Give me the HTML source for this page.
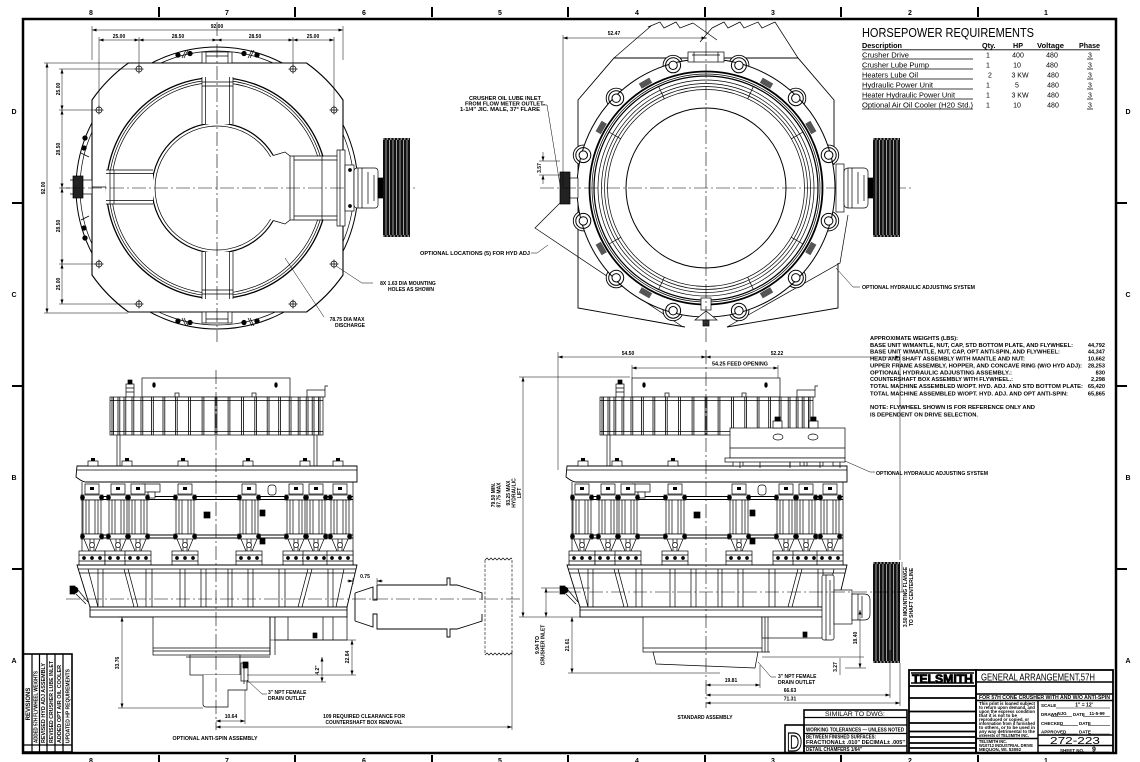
<!DOCTYPE html>
<html><head><meta charset="utf-8">
<style>html,body{margin:0;padding:0;background:#fff;width:1140px;height:762px;overflow:hidden}svg{display:block}</style>
</head>
<body>
<svg xmlns="http://www.w3.org/2000/svg" xmlns:xlink="http://www.w3.org/1999/xlink" width="1140" height="762" viewBox="0 0 1140 762" font-family="'Liberation Sans', Arial, sans-serif">
<defs>
<marker id="ar" viewBox="0 0 6 4" refX="6" refY="2" markerWidth="5" markerHeight="3" orient="auto-start-reverse" markerUnits="userSpaceOnUse"><path d="M0,0L6,2L0,4z" fill="#000"/></marker>
<g id="hole"><circle r="3" fill="#fff"/><path d="M-4.5,0H4.5M0,-4.5V4.5"/></g>
<g id="cy">
 <rect x="-7" y="484" width="14" height="10" fill="#fff"/>
 <rect x="-2" y="487" width="4" height="3" fill="#000" stroke="none"/>
 <rect x="-11" y="495" width="22" height="5" fill="#fff"/>
 <rect x="-9" y="500" width="18" height="34" fill="#fff"/>
 <path d="M-6,500V534M-3,500V534M3,500V534M6,500V534"/>
 <rect x="-11" y="534" width="22" height="5" fill="#fff"/>
 <circle cx="-9.5" cy="497.5" r="2" fill="#000"/><circle cx="9.5" cy="497.5" r="2" fill="#000"/>
 <circle cx="-9.5" cy="536.5" r="2" fill="#000"/><circle cx="9.5" cy="536.5" r="2" fill="#000"/>
 <path d="M-8,539L-3,551M8,539L3,551M-2,539V551M2,539V551"/>
 <circle cx="0" cy="545" r="2.5" fill="#fff"/>
 <rect x="-13" y="551" width="26" height="14" fill="#fff"/>
 <path d="M-13,555H13M-13,561H13"/>
 <circle cx="-8" cy="558" r="1.5" fill="#000"/><circle cx="0" cy="558" r="1.5" fill="#000"/><circle cx="8" cy="558" r="1.5" fill="#000"/>
</g>
<g id="cr" stroke="#000" fill="none" stroke-width="0.7">
 <rect x="-74" y="378" width="148" height="19" fill="#fff"/>
 <ellipse cx="-62" cy="385" rx="1.3" ry="2.3" fill="#000"/><ellipse cx="60" cy="385" rx="1.3" ry="2.3" fill="#000"/>
 <rect x="-90" y="384" width="8" height="13" fill="#fff"/><rect x="-88" y="380" width="4" height="4" fill="#000"/><path d="M-90,388h8M-90,392h8"/>
 <rect x="91" y="390" width="18" height="7" fill="#fff"/><path d="M109,390V386h3"/>
 <rect x="-41" y="393" width="4" height="4" fill="#fff"/><rect x="36" y="393" width="4" height="4" fill="#fff"/>
 <rect x="-106" y="397" width="213" height="38" fill="#fff"/>
 <path d="M-106,400.5H107M-106,431.5H107"/>
 <path stroke-width="0.8" d="M-104,397V435M-102.5,397V435M-98,397V435M-96.2,397V435M-92,397V435M-90.2,397V435M-84,397V435M-82.2,397V435M-75,397V435M-73.2,397V435M-64.5,397V435M-62.7,397V435M-53,397V435M-51.2,397V435M-40.6,397V435M-38.8,397V435M-27.4,397V435M-25.6,397V435M-13.9,397V435M-12.1,397V435M-0.9,397V435M0.9,397V435M12.1,397V435M13.9,397V435M25.6,397V435M27.4,397V435M38.8,397V435M40.6,397V435M51.2,397V435M53,397V435M62.7,397V435M64.5,397V435M73.2,397V435M75,397V435M82.2,397V435M84,397V435M90.2,397V435M92,397V435M96.2,397V435M98,397V435M102.5,397V435M104,397V435"/>
 <path d="M-99,435V466M-96,435V466M101,435V466M98,435V466"/>
 <path d="M-139,466H141V482H-130C-134,482 -137,479 -140,477Z" fill="#fff" stroke-width="0.9"/>
 <path d="M-139,470H141"/>
 <g fill="#fff"><rect x="-128" y="461" width="10" height="5"/><rect x="-94" y="461" width="10" height="5"/><rect x="-38" y="461" width="10" height="5"/><rect x="27" y="461" width="10" height="5"/><rect x="84" y="461" width="10" height="5"/><rect x="117" y="461" width="10" height="5"/></g>
 <g fill="#000" stroke="none"><rect x="-125" y="458" width="4" height="3"/><rect x="-91" y="458" width="4" height="3"/><rect x="-35" y="458" width="4" height="3"/><rect x="30" y="458" width="4" height="3"/><rect x="87" y="458" width="4" height="3"/><rect x="120" y="458" width="4" height="3"/></g>
 <path d="M-134,482V565M137,482V565"/>
 <path stroke-width="0.9" d="M-134,496.5H137M-134,499.5H137M-134,535H137M-134,538H137"/>
 <rect x="-74" y="484" width="18" height="8" fill="#fff"/><rect x="-68" y="492" width="7" height="6" fill="#fff"/>
 <rect x="52" y="485" width="8" height="10" rx="3" fill="#fff"/>
 <use href="#cy" x="-124"/><use href="#cy" x="-98"/><use href="#cy" x="-78"/><use href="#cy" x="-31"/><use href="#cy" x="33"/><use href="#cy" x="80"/><use href="#cy" x="100"/><use href="#cy" x="124"/>
 <rect x="-12" y="512" width="6" height="6" fill="#000"/><rect x="44" y="510" width="5" height="6" fill="#000"/><rect x="44" y="538" width="5" height="6" fill="#000"/>
 <path d="M-139,565H141L131,607H-126Z" fill="#fff" stroke-width="0.9"/>
 <path d="M-138,569H140M-137,573H139"/>
 <path d="M-128,569L-118,607M-118,569V607M-113,569V607M-92,569L-82,607M-88,569L-78,607M-70,569V607M-64,569V607M-36,569V607M-31,569V607M-15,569V607M-10,569V607M12,569V607M16,569V607M32,569V607M37,569V607M63,569V607M69,569V607M92,569L82,607M96,569L86,607M112,569V607M117,569V607M128,569L120,607"/>
 <rect x="-126" y="607" width="257" height="10" fill="#fff" stroke-width="0.9"/>
 <path d="M-126,610H131"/>
 <circle cx="-141" cy="590" r="3" fill="#000"/><rect x="-146" y="586" width="5" height="8" fill="#000"/><path d="M-138,590L-128,602M-140,594L-130,604"/>
</g>
</defs>

<rect width="1140" height="762" fill="#fff"/>

<!-- FRAME -->
<g stroke="#000" fill="none">
<rect x="23" y="19" width="1093" height="734" stroke-width="2.5"/>
<path stroke-width="2" d="M159,7V17M295,7V17M432,7V17M568,7V17M705,7V17M841,7V17M978,7V17M159,755V762M295,755V762M432,755V762M568,755V762M705,755V762M841,755V762M978,755V762M12,203H22M12,386H22M12,569H22M1117,203H1127M1117,386H1127M1117,569H1127"/>
</g>
<g font-size="7" font-weight="bold" text-anchor="middle" fill="#000">
<text x="91" y="15">8</text><text x="227" y="15">7</text><text x="364" y="15">6</text><text x="500" y="15">5</text><text x="637" y="15">4</text><text x="773" y="15">3</text><text x="910" y="15">2</text><text x="1046" y="15">1</text>
<text x="91" y="763">8</text><text x="227" y="763">7</text><text x="364" y="763">6</text><text x="500" y="763">5</text><text x="637" y="763">4</text><text x="773" y="763">3</text><text x="910" y="763">2</text><text x="1046" y="763">1</text>
<text x="14" y="114">D</text><text x="14" y="297">C</text><text x="14" y="480">B</text><text x="14" y="663">A</text>
<text x="1128" y="114">D</text><text x="1128" y="297">C</text><text x="1128" y="480">B</text><text x="1128" y="663">A</text>
</g>

<!-- TOP LEFT VIEW -->
<g stroke="#000" fill="none" stroke-width="0.7">
<circle cx="217" cy="188" r="141" stroke-width="1"/>
<circle cx="217" cy="188" r="137"/>
<path fill="#fff" stroke-width="1.1" d="M128.5,63H306.5A153,153 0 0 1 343,100V275A153,153 0 0 1 306.5,312H128.5A153,153 0 0 1 92,275V100A153,153 0 0 1 128.5,63Z"/>
<g fill="#000"><circle cx="178" cy="55" r="2.3"/><circle cx="190" cy="53.5" r="2.3"/><circle cx="244" cy="53.5" r="2.3"/><circle cx="257" cy="55" r="2.3"/>
<circle cx="178" cy="321" r="2.3"/><circle cx="190" cy="322.5" r="2.3"/><circle cx="244" cy="322.5" r="2.3"/><circle cx="257" cy="321" r="2.3"/>
<circle cx="85" cy="138" r="2.3"/><circle cx="84" cy="148" r="2.3"/><circle cx="84" cy="228" r="2.3"/><circle cx="85" cy="238" r="2.3"/></g>
<path d="M182,58L186,50M184,58L188,50M248,58L252,50M250,58L254,50M182,318L186,326M184,318L188,326M248,318L252,326M250,318L254,326M81,153L89,157M81,220L89,216"/>
<rect x="202" y="52" width="30" height="11" fill="#fff"/><path d="M206,52V63M228,52V63M206,56H228"/>
<rect x="202" y="312" width="30" height="11" fill="#fff"/><path d="M206,312V323M228,312V323M206,319H228"/>
<rect x="73" y="176" width="10" height="22" fill="#222"/><rect x="83" y="180" width="9" height="14" fill="#fff"/><path d="M70,180h4M70,194h4M92,187H106"/>
<circle cx="217" cy="188" r="110.5" stroke-width="1.3"/>
<circle cx="217" cy="188" r="108"/>
<circle cx="217" cy="188" r="105.5"/>
<path d="M273.3,155.5A65,65 0 1 0 273.3,220.5" stroke-width="1.2"/>
<path d="M270.7,157A62,62 0 1 0 270.7,219"/>
<rect x="291" y="156.5" width="46" height="63" fill="#fff" stroke="none"/>
<path d="M273.3,155.5L285,152L290,156H337M273.3,220.5L285,224L290,220H337M290,156V220M294,156V220M294,160H337M294,216H337M322,156V220"/>
<rect x="337" y="150" width="8" height="76" fill="#fff"/><path d="M340,150V226"/>
<rect x="202" y="76.5" width="31" height="47.5" fill="#fff" stroke="none"/>
<path d="M202,77V124M205.5,77V124M229.5,77V124M233,77V124M202,82H233M202,86H233"/>
<rect x="202" y="252" width="31" height="48" fill="#fff" stroke="none"/>
<path d="M202,252V299M205.5,252V299M229.5,252V299M233,252V299M202,290H233M202,294H233"/>
<rect x="106" y="170" width="47" height="34" fill="#fff" stroke="none"/>
<path d="M106,170H153M106,173.5H153M106,200.5H153M106,204H153M110,170V204M114,170V204"/>
<use href="#hole" x="139" y="69"/><use href="#hole" x="99" y="110"/><use href="#hole" x="99" y="264"/><use href="#hole" x="139" y="304"/>
<use href="#hole" x="293" y="69"/><use href="#hole" x="334" y="110"/><use href="#hole" x="334" y="264"/><use href="#hole" x="293" y="304"/>
<path stroke-width="0.6" stroke-dasharray="14 3 2 3" d="M66,188H418M217,22V342"/>
<rect x="345" y="165" width="9" height="46" fill="#fff"/>
<rect x="354" y="168" width="24" height="40" rx="3" fill="#fff"/>
<path d="M358,168V208M362,168V208M368,172V204M374,175V201"/>
<circle cx="350" cy="170" r="1.5" fill="#000"/><circle cx="350" cy="206" r="1.5" fill="#000"/>
<rect x="378" y="178" width="6" height="20" fill="#000"/>
<rect x="383" y="138" width="27" height="99" fill="#111" stroke="none"/>
<path stroke="#fff" stroke-width="0.6" d="M386,140V235M389.5,140V235M393,140V235M396.5,140V235M400,140V235M403.5,140V235M407,140V235"/>
<path stroke="#fff" stroke-width="1" stroke-dasharray="1.5 2" d="M383,139H410M383,236H410"/>
<g stroke-width="0.5">
<path d="M92,26V60M343,26V60M99,37V106M139,37V66M293,37V66M334,37V106"/>
<line x1="92" y1="30" x2="343" y2="30" marker-start="url(#ar)" marker-end="url(#ar)"/>
<line x1="99" y1="40" x2="139" y2="40" marker-start="url(#ar)" marker-end="url(#ar)"/>
<line x1="139" y1="40" x2="217" y2="40" marker-start="url(#ar)" marker-end="url(#ar)"/>
<line x1="217" y1="40" x2="293" y2="40" marker-start="url(#ar)" marker-end="url(#ar)"/>
<line x1="293" y1="40" x2="334" y2="40" marker-start="url(#ar)" marker-end="url(#ar)"/>
<path d="M44,63H128M44,313H128M59,69H136M59,110H96M59,264H96M59,304H136M59,188H70"/>
<line x1="47" y1="63" x2="47" y2="313" marker-start="url(#ar)" marker-end="url(#ar)"/>
<line x1="62" y1="69" x2="62" y2="110" marker-start="url(#ar)" marker-end="url(#ar)"/>
<line x1="62" y1="110" x2="62" y2="188" marker-start="url(#ar)" marker-end="url(#ar)"/>
<line x1="62" y1="188" x2="62" y2="264" marker-start="url(#ar)" marker-end="url(#ar)"/>
<line x1="62" y1="264" x2="62" y2="304" marker-start="url(#ar)" marker-end="url(#ar)"/>
<path d="M336,266L362,283H373M285,258L324,317"/>
</g>
</g>
<g font-size="5" font-weight="bold" fill="#000" text-anchor="middle">
<text x="217" y="28">92.00</text>
<text x="119" y="38">25.00</text><text x="178" y="38">28.50</text><text x="255" y="38">28.50</text><text x="313" y="38">25.00</text>
<text transform="translate(60,89) rotate(-90)">25.00</text>
<text transform="translate(60,149) rotate(-90)">28.50</text>
<text transform="translate(60,226) rotate(-90)">28.50</text>
<text transform="translate(60,284) rotate(-90)">25.00</text>
<text transform="translate(45,188) rotate(-90)">92.00</text>
<text x="408" y="285">8X  1.63 DIA MOUNTING</text>
<text x="411" y="291">HOLES AS SHOWN</text>
<text x="347" y="321">78.75 DIA MAX</text>
<text x="350" y="327">DISCHARGE</text>
</g>

<!-- TOP RIGHT VIEW -->
<g stroke="#000" fill="none" stroke-width="0.7">
<path d="M563,200L535,228L683,327M727,327L840,263L848,215"/>
<path stroke-width="0.9" d="M578,212V100L614,58H798L834,100V165M578,212V308L685,327M727,327L838,308V263"/>
<path d="M648,27L660,22L664,28L676,22L680,28L693,23M712,28L724,22L728,28L740,22L744,28L758,22L762,28L775,22M651,26L614,58M775,22L798,58M693,23L717,40M712,28L700,42"/>
<g fill="#fff" stroke-width="0.9">
<circle cx="828.7" cy="220.9" r="10"/><circle cx="795.8" cy="277.8" r="10"/><circle cx="738.9" cy="310.7" r="10"/><circle cx="673.1" cy="310.7" r="10"/><circle cx="616.2" cy="277.8" r="10"/><circle cx="583.3" cy="220.9" r="10"/><circle cx="583.3" cy="155.1" r="10"/><circle cx="616.2" cy="98.2" r="10"/><circle cx="673.1" cy="65.3" r="10"/><circle cx="738.9" cy="65.3" r="10"/><circle cx="795.8" cy="98.2" r="10"/><circle cx="828.7" cy="155.1" r="10"/>
</g>
<circle cx="706" cy="188" r="129" fill="#fff" stroke-width="1"/>
<circle cx="706" cy="188" r="116.5" stroke-width="1.8"/>
<circle cx="706" cy="188" r="114"/>
<g stroke-width="1">
<circle cx="828.7" cy="220.9" r="7.5"/><circle cx="795.8" cy="277.8" r="7.5"/><circle cx="738.9" cy="310.7" r="7.5"/><circle cx="673.1" cy="310.7" r="7.5"/><circle cx="616.2" cy="277.8" r="7.5"/><circle cx="583.3" cy="220.9" r="7.5"/><circle cx="583.3" cy="155.1" r="7.5"/><circle cx="616.2" cy="98.2" r="7.5"/><circle cx="673.1" cy="65.3" r="7.5"/><circle cx="738.9" cy="65.3" r="7.5"/><circle cx="795.8" cy="98.2" r="7.5"/><circle cx="828.7" cy="155.1" r="7.5"/>
</g>
<g fill="#fff" stroke-width="1">
<circle cx="828.7" cy="220.9" r="4.2"/><circle cx="795.8" cy="277.8" r="4.2"/><circle cx="738.9" cy="310.7" r="4.2"/><circle cx="673.1" cy="310.7" r="4.2"/><circle cx="616.2" cy="277.8" r="4.2"/><circle cx="583.3" cy="220.9" r="4.2"/><circle cx="583.3" cy="155.1" r="4.2"/><circle cx="616.2" cy="98.2" r="4.2"/><circle cx="673.1" cy="65.3" r="4.2"/><circle cx="738.9" cy="65.3" r="4.2"/><circle cx="795.8" cy="98.2" r="4.2"/><circle cx="828.7" cy="155.1" r="4.2"/>
</g>
<g fill="#555" stroke="none">
<rect x="-3" y="-6" width="6" height="12" transform="translate(810.8,248.5) rotate(30)"/>
<rect x="-3" y="-6" width="6" height="12" transform="translate(766.5,292.8) rotate(60)"/>
<rect x="-3" y="-6" width="6" height="12" transform="translate(645.5,292.8) rotate(120)"/>
<rect x="-3" y="-6" width="6" height="12" transform="translate(601.2,248.5) rotate(150)"/>
<rect x="-3" y="-6" width="6" height="12" transform="translate(601.2,127.5) rotate(210)"/>
<rect x="-3" y="-6" width="6" height="12" transform="translate(645.5,83.2) rotate(240)"/>
<rect x="-3" y="-6" width="6" height="12" transform="translate(766.5,83.2) rotate(300)"/>
<rect x="-3" y="-6" width="6" height="12" transform="translate(810.8,127.5) rotate(330)"/>
</g>
<circle cx="706" cy="188" r="112" stroke-width="1.2"/>
<circle cx="706" cy="188" r="108"/>
<circle cx="706" cy="188" r="104.5"/>
<circle cx="706" cy="188" r="101.5"/>
<circle cx="706" cy="188" r="98.5"/>
<circle cx="706" cy="188" r="80" stroke-width="1"/>
<path d="M620.7,138.8L609,132M664.3,98.8L658.6,86.5M747.7,98.8L753.4,86.5M791.3,138.8L803,132M791.3,237.3L803,244M747.7,277.3L753.4,289.5M664.3,277.3L658.6,289.5M620.7,237.3L609,244"/>
<rect x="688" y="52" width="36" height="10" fill="#fff"/><path d="M692,55H720M694,52V62M718,52V62"/>
<rect x="701" y="298" width="10" height="12" fill="#fff"/><path d="M695,320L717,320L706,311Z" fill="#fff"/><rect x="703" y="320" width="6" height="6" fill="#333"/>
<rect x="560" y="172" width="10" height="32" fill="#222"/><rect x="570" y="178" width="8" height="20" fill="#fff"/>
<path stroke-width="0.6" stroke-dasharray="14 3 2 3" d="M540,188H912M706,20V342"/>
<rect x="836" y="164" width="8" height="48" fill="#fff"/>
<rect x="844" y="168" width="24" height="40" rx="4" fill="#fff"/>
<path d="M848,168V208M852,168V208M858,172V204M864,175V201"/>
<rect x="868" y="178" width="6" height="20" fill="#000"/>
<rect x="873" y="138" width="27" height="99" fill="#111" stroke="none"/>
<path stroke="#fff" stroke-width="0.6" d="M876,140V235M879.5,140V235M883,140V235M886.5,140V235M890,140V235M893.5,140V235M897,140V235"/>
<path stroke="#fff" stroke-width="1" stroke-dasharray="1.5 2" d="M873,139H900M873,236H900"/>
<g stroke-width="0.5">
<path d="M563,35V186"/>
<line x1="563" y1="38" x2="706" y2="38" marker-start="url(#ar)" marker-end="url(#ar)"/>
<path d="M539,161H560M539,175H560"/>
<line x1="543" y1="152" x2="543" y2="161" marker-end="url(#ar)"/>
<line x1="543" y1="184" x2="543" y2="175" marker-end="url(#ar)"/>
<path d="M542,105H547L560,185M531,253L537,253L548,245M836,268L853,287H860"/>
</g>
</g>
<g font-size="5" font-weight="bold" fill="#000">
<text x="614" y="35" text-anchor="middle">52.47</text>
<text x="541" y="100" text-anchor="end" textLength="72" lengthAdjust="spacingAndGlyphs">CRUSHER OIL LUBE INLET</text>
<text x="545" y="105.5" text-anchor="end" textLength="80" lengthAdjust="spacingAndGlyphs">FROM FLOW METER OUTLET-</text>
<text x="540" y="111" text-anchor="end" textLength="80" lengthAdjust="spacingAndGlyphs">1-1/4" JIC. MALE, 37° FLARE</text>
<text transform="translate(541,168) rotate(-90)" text-anchor="middle">3.57</text>
<text x="530" y="255" text-anchor="end" textLength="110" lengthAdjust="spacingAndGlyphs">OPTIONAL LOCATIONS (5) FOR HYD ADJ</text>
<text x="862" y="289" textLength="113" lengthAdjust="spacingAndGlyphs">OPTIONAL HYDRAULIC ADJUSTING SYSTEM</text>
</g>

<!-- HP TABLE -->
<g fill="#000">
<text x="862" y="37" font-size="12.5" textLength="172" lengthAdjust="spacingAndGlyphs">HORSEPOWER REQUIREMENTS</text>
<g font-size="7.2" font-weight="bold">
<text x="862" y="48" textLength="40" lengthAdjust="spacingAndGlyphs">Description</text>
<text x="982" y="48">Qty.</text><text x="1013" y="48">HP</text><text x="1037" y="48" textLength="27" lengthAdjust="spacingAndGlyphs">Voltage</text><text x="1079" y="48" textLength="21" lengthAdjust="spacingAndGlyphs">Phase</text>
</g>
<g font-size="7">
<text x="862" y="57.3" textLength="47" lengthAdjust="spacingAndGlyphs">Crusher Drive</text>
<text x="862" y="67.3" textLength="67" lengthAdjust="spacingAndGlyphs">Crusher Lube Pump</text>
<text x="862" y="77.3" textLength="56" lengthAdjust="spacingAndGlyphs">Heaters Lube Oil</text>
<text x="862" y="87.3" textLength="71" lengthAdjust="spacingAndGlyphs">Hydraulic Power Unit</text>
<text x="862" y="97.3" textLength="93" lengthAdjust="spacingAndGlyphs">Heater Hydraulic Power Unit</text>
<text x="862" y="107.3" textLength="111" lengthAdjust="spacingAndGlyphs">Optional Air Oil Cooler (H20 Std.)</text>
</g>
<g font-size="7" text-anchor="middle">
<text x="988" y="57.3">1</text><text x="988" y="67.3">1</text><text x="990" y="77.3">2</text><text x="988" y="87.3">1</text><text x="988" y="97.3">1</text><text x="988" y="107.3">1</text>
<text x="1018" y="57.3">400</text><text x="1017" y="67.3">10</text><text x="1020" y="77.3">3 KW</text><text x="1017" y="87.3">5</text><text x="1020" y="97.3">3 KW</text><text x="1017" y="107.3">10</text>
<text x="1052" y="57.3">480</text><text x="1052" y="67.3">480</text><text x="1053" y="77.3">480</text><text x="1053" y="87.3">480</text><text x="1053" y="97.3">480</text><text x="1053" y="107.3">480</text>
<text x="1090" y="57.3">3</text><text x="1090" y="67.3">3</text><text x="1090" y="77.3">3</text><text x="1090" y="87.3">3</text><text x="1090" y="97.3">3</text><text x="1090" y="107.3">3</text>
</g>
<path stroke="#000" stroke-width="0.8" d="M862,49.8H1100M862,59H973M862,69H973M862,79H973M862,89H973M862,99H973M862,109H973M1087,59H1093M1087,69H1093M1087,79H1093M1087,89H1093M1087,99H1093M1087,109H1093"/>
</g>

<!-- WEIGHTS -->
<g fill="#000" font-size="5.6" font-weight="bold">
<text x="870" y="340" textLength="88" lengthAdjust="spacingAndGlyphs">APPROXIMATE WEIGHTS (LBS):</text>
<text x="870" y="347" textLength="203" lengthAdjust="spacingAndGlyphs">BASE UNIT W/MANTLE, NUT, CAP, STD BOTTOM PLATE, AND FLYWHEEL:</text>
<text x="870" y="353.7" textLength="190" lengthAdjust="spacingAndGlyphs">BASE UNIT W/MANTLE, NUT, CAP, OPT ANTI-SPIN, AND FLYWHEEL:</text>
<text x="870" y="360.5" textLength="155" lengthAdjust="spacingAndGlyphs">HEAD AND SHAFT ASSEMBLY WITH MANTLE AND NUT:</text>
<text x="870" y="367.5" textLength="212" lengthAdjust="spacingAndGlyphs">UPPER FRAME ASSEMBLY, HOPPER, AND CONCAVE RING (W/O HYD ADJ):</text>
<text x="870" y="374.3" textLength="142" lengthAdjust="spacingAndGlyphs">OPTIONAL HYDRAULIC ADJUSTING ASSEMBLY.:</text>
<text x="870" y="381" textLength="143" lengthAdjust="spacingAndGlyphs">COUNTERSHAFT BOX ASSEMBLY WITH FLYWHEEL.:</text>
<text x="870" y="388" textLength="213" lengthAdjust="spacingAndGlyphs">TOTAL MACHINE ASSEMBLED W/OPT. HYD. ADJ. AND STD BOTTOM PLATE:</text>
<text x="870" y="395.5" textLength="198" lengthAdjust="spacingAndGlyphs">TOTAL MACHINE ASSEMBLED W/OPT. HYD. ADJ. AND OPT ANTI-SPIN:</text>
<text x="870" y="409" textLength="165" lengthAdjust="spacingAndGlyphs">NOTE: FLYWHEEL SHOWN IS FOR REFERENCE ONLY AND</text>
<text x="870" y="416.5" textLength="108" lengthAdjust="spacingAndGlyphs">IS DEPENDENT ON DRIVE SELECTION.</text>
<g text-anchor="end">
<text x="1105" y="347">44,792</text><text x="1105" y="353.7">44,347</text><text x="1105" y="360.5">10,662</text><text x="1105" y="367.5">28,253</text><text x="1105" y="374.3">830</text><text x="1105" y="381">2,298</text><text x="1105" y="388">65,420</text><text x="1105" y="395.5">65,865</text>
</g>
</g>

<!-- ELEVATIONS -->
<use href="#cr" xlink:href="#cr" transform="translate(216,0)"/>
<use href="#cr" xlink:href="#cr" transform="translate(706,0)"/>

<!-- left lower -->
<g stroke="#000" fill="none" stroke-width="0.7">
<rect x="153" y="617" width="117" height="38" fill="#fff"/>
<path d="M153,651H270M153,648H270M270,617V655M275,617V655"/>
<rect x="275" y="617" width="72" height="23" fill="#fff"/>
<path d="M288,617V640M323,617V640M333,617V640"/>
<rect x="313" y="633" width="4" height="5" fill="#000"/>
<rect x="190" y="655" width="50" height="20" fill="#fff"/>
<path d="M186,657H270"/>
<path d="M203,675V704Q203,707 206,707H228V690H247V675" fill="#fff"/>
<rect x="241" y="663" width="7" height="18" fill="#fff"/><rect x="243" y="662" width="5" height="6" fill="#000"/><path d="M244,668V684"/>
<path stroke-width="0.6" stroke-dasharray="14 3 2 3" d="M216,370V730M66,599H520"/>
<path stroke-width="0.9" d="M355,593L373,587V600H377V585H447V578H450V585H457L473,590L482,593V600M355,621L373,627V614H377V629H447V637H450V629H457L473,624L482,621V614M355,593V621"/>
<path stroke-width="0.6" stroke-dasharray="3 1.5" d="M485,560V655M512,560V655"/>
<path d="M485,560l2,-2l2,2l2,-2l2,2l2,-2l2,2l2,-2l2,2l2,-2l2,2l2,-2l2,2l2,-2l1,1M485,655l2,-2l2,2l2,-2l2,2l2,-2l2,2l2,-2l2,2l2,-2l2,2l2,-2l2,2l2,-2l1,1"/>
<g stroke-width="0.5">
<path d="M348,581H353M377,581H382M353,578V584M377,578V584"/>
<line x1="347" y1="581" x2="353" y2="581" marker-end="url(#ar)"/><line x1="383" y1="581" x2="377" y2="581" marker-end="url(#ar)"/>
<path d="M118,617H153M118,708H203"/>
<line x1="122" y1="617" x2="122" y2="708" marker-start="url(#ar)" marker-end="url(#ar)"/>
<path d="M247,675H356M270,640H356"/>
<line x1="352" y1="640" x2="352" y2="675" marker-start="url(#ar)" marker-end="url(#ar)"/>
<path d="M247,682H326"/>
<line x1="322" y1="657" x2="322" y2="682" marker-start="url(#ar)" marker-end="url(#ar)"/>
<path d="M245,690V724M512,650V730"/>
<line x1="216" y1="721" x2="245" y2="721" marker-start="url(#ar)" marker-end="url(#ar)"/>
<line x1="216" y1="727" x2="512" y2="727" marker-start="url(#ar)" marker-end="url(#ar)"/>
<path d="M247,680L262,694H267"/>
<path d="M519,377H630M519,617H582M558,352V470"/>
<line x1="523" y1="377" x2="523" y2="617" marker-start="url(#ar)" marker-end="url(#ar)"/>
<path d="M541,588H590"/>
<line x1="546" y1="588" x2="546" y2="617" marker-start="url(#ar)" marker-end="url(#ar)"/>
</g>
</g>
<g font-size="5" font-weight="bold" fill="#000" text-anchor="middle">
<text x="365" y="578">0.75</text>
<text transform="translate(119,663) rotate(-90)">33.76</text>
<text transform="translate(349,657) rotate(-90)">22.84</text>
<text transform="translate(319,670) rotate(-90)">4.2"</text>
<text x="231" y="718">10.64</text>
<text x="364" y="718" textLength="82" lengthAdjust="spacingAndGlyphs">109 REQUIRED CLEARANCE FOR</text>
<text x="364" y="724" textLength="77" lengthAdjust="spacingAndGlyphs">COUNTERSHAFT BOX REMOVAL</text>
<text x="215" y="740" textLength="85" lengthAdjust="spacingAndGlyphs">OPTIONAL ANTI-SPIN ASSEMBLY</text>
<text x="268" y="694" text-anchor="start">3" NPT FEMALE</text>
<text x="268" y="700" text-anchor="start">DRAIN OUTLET</text>
<text transform="translate(495,495) rotate(-90)">79.50 MIN.</text>
<text transform="translate(500.5,495) rotate(-90)">87.75 MAX</text>
<text transform="translate(510,493) rotate(-90)">93.25 MAX</text>
<text transform="translate(515.5,493) rotate(-90)">HYDRAULIC</text>
<text transform="translate(521,493) rotate(-90)">LIFT</text>
<text transform="translate(539,645) rotate(-90)">9.94 TO</text>
<text transform="translate(544.5,645) rotate(-90)">CRUSHER INLET</text>
</g>

<!-- right lower -->
<g stroke="#000" fill="none" stroke-width="0.7">
<rect x="730" y="428" width="115" height="30" fill="#fff"/>
<rect x="725" y="458" width="120" height="4" fill="#fff"/>
<path d="M740,462V468M760,462V468M790,462V468M820,462V468M840,462V468"/>
<ellipse cx="778" cy="437" rx="5" ry="3"/><ellipse cx="813" cy="437" rx="5" ry="3"/>
<rect x="773" y="421" width="9" height="7" fill="#fff"/><rect x="775" y="417" width="5" height="4" fill="#000"/>
<rect x="809" y="421" width="9" height="7" fill="#fff"/><rect x="811" y="417" width="5" height="4" fill="#000"/>
<path d="M730,448H845"/>
<rect x="643" y="617" width="119" height="35" fill="#fff"/>
<path d="M643,648H762"/>
<rect x="762" y="617" width="63" height="21" fill="#fff"/>
<path d="M765,617V652M768,617V652M762,652H770"/>
<rect x="803" y="632" width="4" height="5" fill="#000"/>
<path d="M653,652H758L755,668L656,664Z" fill="#fff"/>
<rect x="822" y="575" width="12" height="65" rx="2" fill="#fff"/>
<path d="M826,575V640M830,580V635"/>
<rect x="834" y="590" width="18" height="34" fill="#fff"/>
<path d="M852,594H864Q870,594 870,600V614Q870,620 864,620H852Z" fill="#fff"/>
<path d="M858,594V620M862,596V618"/>
<rect x="873" y="562" width="27" height="101" fill="#111" stroke="none"/>
<path stroke="#fff" stroke-width="0.6" d="M876,564V661M879.5,564V661M883,564V661M886.5,564V661M890,564V661M893.5,564V661M897,564V661"/>
<path stroke="#fff" stroke-width="1" stroke-dasharray="1.5 2" d="M873,563H900M873,662H900"/>
<path stroke-width="0.6" stroke-dasharray="14 3 2 3" d="M706,350V708M545,592H905"/>
<g stroke-width="0.5">
<line x1="558" y1="357" x2="706" y2="357" marker-start="url(#ar)" marker-end="url(#ar)"/>
<line x1="706" y1="357" x2="900" y2="357" marker-start="url(#ar)" marker-end="url(#ar)"/>
<path d="M900,354V560M632,365V378M778,365V378"/>
<line x1="632" y1="368" x2="778" y2="368" marker-start="url(#ar)" marker-end="url(#ar)"/>
<path d="M568,673H720"/>
<line x1="572" y1="617" x2="572" y2="673" marker-start="url(#ar)" marker-end="url(#ar)"/>
<path d="M762,657H864M845,668H866"/>
<line x1="860" y1="610" x2="860" y2="668" marker-start="url(#ar)" marker-end="url(#ar)"/>
<path d="M840,658V675"/>
<path d="M760,665V688M890,650V698M900,663V706"/>
<line x1="706" y1="685" x2="760" y2="685" marker-start="url(#ar)" marker-end="url(#ar)"/>
<line x1="706" y1="695" x2="890" y2="695" marker-start="url(#ar)" marker-end="url(#ar)"/>
<line x1="706" y1="703" x2="900" y2="703" marker-start="url(#ar)" marker-end="url(#ar)"/>
<path d="M758,662L771,677H776M845,461L870,472H875M902,562V592"/>
</g>
</g>
<g font-size="5" font-weight="bold" fill="#000" text-anchor="middle">
<text x="628" y="355">54.50</text><text x="777" y="355">52.22</text>
<text x="740" y="365.5" textLength="56" lengthAdjust="spacingAndGlyphs">54.25 FEED OPENING</text>
<text transform="translate(569,645) rotate(-90)">21.61</text>
<text transform="translate(857,638) rotate(-90)">18.40</text>
<text transform="translate(837,667) rotate(-90)">3.27</text>
<text x="731" y="682">19.81</text>
<text x="790" y="692">66.63</text>
<text x="790" y="700.5">71.31</text>
<text x="705" y="719" textLength="55" lengthAdjust="spacingAndGlyphs">STANDARD ASSEMBLY</text>
<text x="778" y="678" text-anchor="start">3" NPT FEMALE</text>
<text x="778" y="684" text-anchor="start">DRAIN OUTLET</text>
<text x="876" y="475" text-anchor="start" textLength="112" lengthAdjust="spacingAndGlyphs">OPTIONAL HYDRAULIC ADJUSTING SYSTEM</text>
<text transform="translate(907,597) rotate(-90)">3.50 MOUNTING FLANGE</text>
<text transform="translate(913,597) rotate(-90)">TO SHAFT CENTERLINE</text>
</g>

<!-- REVISIONS -->
<g stroke="#000" fill="none">
<rect x="23" y="654" width="49" height="98" stroke-width="1.6"/>
<path stroke-width="1.2" d="M32,654V752M39.5,654V752M47,654V752M55,654V752M63,654V752M23,745H72"/>
</g>
<g font-size="5" font-weight="bold" fill="#000">
<text transform="translate(30,704) rotate(-90)" text-anchor="middle" font-size="6">REVISIONS</text>
<text transform="translate(37.5,743) rotate(-90)" textLength="72" lengthAdjust="spacingAndGlyphs">ADDED 57H FLYWHEEL WEIGHTS</text>
<text transform="translate(45,743) rotate(-90)" textLength="80" lengthAdjust="spacingAndGlyphs">REVISED HYD ADJ ASSEMBLY</text>
<text transform="translate(53,743) rotate(-90)" textLength="82" lengthAdjust="spacingAndGlyphs">REVISED CRUSHER LUBE INLET</text>
<text transform="translate(61,743) rotate(-90)" textLength="78" lengthAdjust="spacingAndGlyphs">ADDED OPT AIR OIL COOLER</text>
<text transform="translate(69.5,743) rotate(-90)" textLength="74" lengthAdjust="spacingAndGlyphs">UPDATED HP REQUIREMENTS</text>
</g>

<!-- TITLE BLOCK -->
<g stroke="#000" fill="none">
<rect x="804" y="710" width="103" height="43" stroke-width="1.6"/>
<path stroke-width="1.2" d="M804,717.5H907M804,725H907M804,733.5H907M804,746H907"/>
<rect x="785" y="725" width="19" height="28" stroke-width="1.6"/>
<rect x="909" y="670" width="67" height="83" stroke-width="1.8"/>
<path stroke-width="1.8" d="M909,686H976M909,698H976M909,711.5H976M909,723H976M909,731.5H976M909,737H976M909,743H976M909,748H976"/>
<rect x="976" y="670" width="137" height="83" stroke-width="1.8"/>
<path stroke-width="1.4" d="M976,682H1113M976,694H1113M976,700.5H1113M1038,700.5V753M1038,735H1113M1038,745.5H1113M976,738.5H1038"/>
<path stroke-width="0.6" d="M1056,708H1110M1051,716.5H1072M1083,716.5H1110M1060,725.5H1078M1088,725.5H1110M1062,734H1078M1088,734H1110M1076,752H1110"/>
</g>
<g fill="#000">
<text x="855" y="716" font-size="6" text-anchor="middle" textLength="60" lengthAdjust="spacingAndGlyphs">SIMILAR TO DWG:</text>
<g font-size="5" font-weight="bold">
<text x="806" y="731.5" textLength="98" lengthAdjust="spacingAndGlyphs">WORKING TOLERANCES — UNLESS NOTED</text>
<text x="806" y="738.5" textLength="70" lengthAdjust="spacingAndGlyphs">BETWEEN FINISHED SURFACES:</text>
<text x="806" y="744" textLength="99" lengthAdjust="spacingAndGlyphs">FRACTIONAL± .010"     DECIMAL± .005"</text>
<text x="806" y="751" textLength="56" lengthAdjust="spacingAndGlyphs">DETAIL CHAMFERS 1/64"</text>
</g>
<text x="787" y="751" font-size="26" font-weight="bold" fill="#fff" stroke="#000" stroke-width="1.2" textLength="15" lengthAdjust="spacingAndGlyphs">D</text>
<text x="912" y="683" font-size="12" font-weight="bold" stroke="#000" stroke-width="0.8" textLength="61" lengthAdjust="spacingAndGlyphs">TELSMITH</text>
<path d="M911,673H974M911,683H974" stroke="#000" stroke-width="1.5"/>
<text x="981" y="680.5" font-size="10" textLength="114" lengthAdjust="spacingAndGlyphs">GENERAL  ARRANGEMENT,57H</text>
<g font-size="5" font-weight="bold">
<text x="979" y="699" textLength="131" lengthAdjust="spacingAndGlyphs">FOR 57H CONE CRUSHER WITH AND W/O ANTI-SPIN</text>
</g>
<g font-size="4.2" font-weight="bold">
<text x="979" y="705" textLength="56" lengthAdjust="spacingAndGlyphs">This print is loaned subject</text>
<text x="979" y="709" textLength="56" lengthAdjust="spacingAndGlyphs">to return upon demand, and</text>
<text x="979" y="713" textLength="56" lengthAdjust="spacingAndGlyphs">upon the express condition</text>
<text x="979" y="717" textLength="38" lengthAdjust="spacingAndGlyphs">that it is not to be</text>
<text x="979" y="721" textLength="50" lengthAdjust="spacingAndGlyphs">reproduced or copied, or</text>
<text x="979" y="725" textLength="56" lengthAdjust="spacingAndGlyphs">information from it furnished</text>
<text x="979" y="729" textLength="56" lengthAdjust="spacingAndGlyphs">to others, or to be used in</text>
<text x="979" y="733" textLength="56" lengthAdjust="spacingAndGlyphs">any way detrimental to the</text>
<text x="979" y="737" textLength="50" lengthAdjust="spacingAndGlyphs">interests of TELSMITH INC.</text>
<text x="979" y="743" textLength="28" lengthAdjust="spacingAndGlyphs">TELSMITH INC.</text>
<text x="979" y="747" textLength="54" lengthAdjust="spacingAndGlyphs">W10712 INDUSTRIAL DRIVE</text>
<text x="979" y="751" textLength="42" lengthAdjust="spacingAndGlyphs">MEQUON, WI. 53092</text>
</g>
<g font-size="4.5" font-weight="bold">
<text x="1041" y="707">SCALE</text><text x="1084" y="706.5" font-size="5" text-anchor="middle">1" = 12'</text>
<text x="1041" y="716">DRAWN</text><text x="1062" y="715" text-anchor="middle">NJG</text><text x="1073" y="716">DATE</text><text x="1097" y="715" text-anchor="middle">11-5-99</text>
<text x="1041" y="725">CHECKED</text><text x="1079" y="725">DATE</text>
<text x="1041" y="733.5">APPROVED</text><text x="1079" y="733.5">DATE</text>
<text x="1060" y="752">SHEET NO.</text>
</g>
<text x="1075" y="744" font-size="10.5" text-anchor="middle" textLength="50" lengthAdjust="spacingAndGlyphs">272-223</text>
<text x="1094" y="751.5" font-size="7" font-weight="bold" text-anchor="middle">9</text>
</g>
</svg>
</body></html>
